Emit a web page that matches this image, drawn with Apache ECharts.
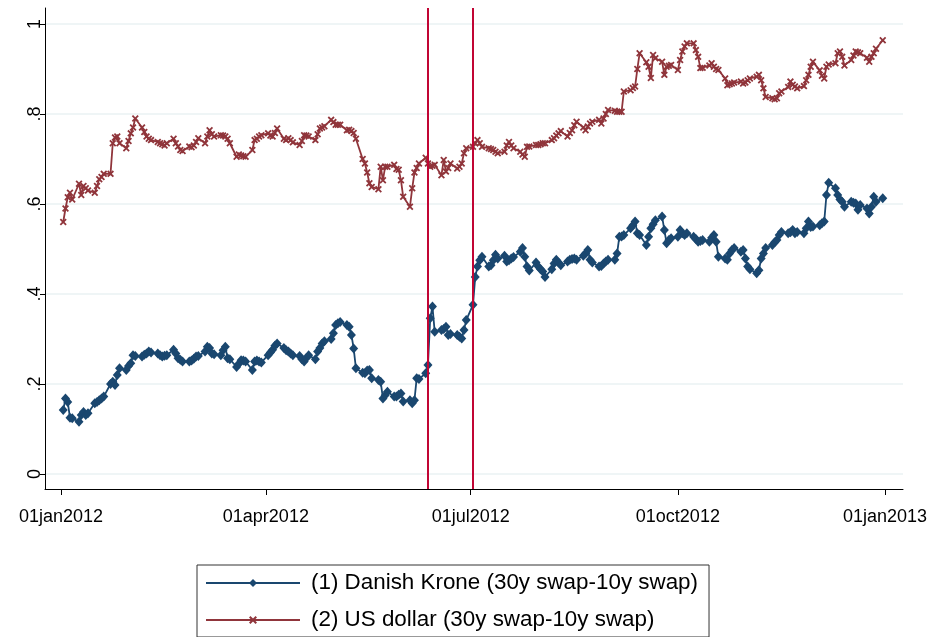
<!DOCTYPE html>
<html><head><meta charset="utf-8">
<script src="https://cdn.jsdelivr.net/npm/echarts@6/dist/echarts.min.js"></script>
<style>html,body{margin:0;padding:0;background:#fff}#c{width:933px;height:637px}</style>
</head><body><div id="c"></div>
<script>
// (1) Danish Krone, one row per week (Mon..Fri), 2012-01-02 .. 2012-12-31
const dkk = [
0.142,0.168,0.160,0.125,0.124,
0.116,0.131,0.138,0.131,0.135,
0.157,0.160,0.164,0.168,0.172,
0.200,0.205,0.198,0.220,0.235,
0.231,0.240,0.246,0.264,0.262,
0.261,0.265,0.268,0.272,0.270,
0.268,0.264,0.261,0.263,0.264,
0.276,0.268,0.257,0.254,0.250,
0.250,0.252,0.256,0.261,0.262,
0.272,0.283,0.280,0.268,0.266,
0.264,0.275,0.283,0.257,0.255,
0.238,0.245,0.253,0.252,0.250,
0.231,0.250,0.252,0.250,0.248,
0.264,0.270,0.276,0.285,0.290,
0.280,0.275,0.272,0.268,0.264,
0.262,0.255,0.250,0.258,0.264,
0.255,0.272,0.280,0.290,0.295,
0.300,0.313,0.331,0.335,0.338,
0.331,0.327,0.309,0.279,0.235,
0.225,0.224,0.230,0.231,0.213,
0.209,0.205,0.168,0.175,0.183,
0.172,0.172,0.176,0.179,0.161,
0.164,0.157,0.164,0.213,0.211,
0.224,0.242,0.346,0.372,0.316,
0.320,0.322,0.327,0.309,0.311,
0.309,0.305,0.301,0.320,0.342,
0.376,0.438,0.461,0.475,0.483,
0.461,0.464,0.475,0.487,0.479,
0.485,0.472,0.475,0.479,0.482,
0.494,0.502,0.483,0.461,0.452,
0.470,0.461,0.455,0.450,0.438,
0.455,0.468,0.476,0.470,0.464,
0.472,0.476,0.478,0.479,0.476,
0.485,0.490,0.498,0.476,0.470,
0.461,0.462,0.468,0.472,0.476,
0.476,0.490,0.527,0.528,0.531,
0.546,0.553,0.561,0.535,0.531,
0.509,0.527,0.546,0.555,0.564,
0.572,0.542,0.513,0.520,0.524,
0.527,0.542,0.535,0.531,0.535,
0.527,0.522,0.516,0.518,0.520,
0.516,0.525,0.531,0.516,0.483,
0.479,0.476,0.490,0.498,0.502,
0.494,0.498,0.479,0.461,0.455,
0.446,0.453,0.479,0.490,0.502,
0.509,0.515,0.520,0.531,0.538,
0.535,0.537,0.542,0.535,0.538,
0.535,0.546,0.561,0.549,0.550,
0.553,0.557,0.561,0.620,0.647,
0.635,0.620,0.610,0.605,0.594,
0.605,0.603,0.601,0.587,0.598,
0.590,0.579,0.594,0.616,0.605,
0.613
];
// (2) US dollar
const usd = [
0.560,0.590,0.615,0.625,0.610,
0.645,0.620,0.640,0.635,0.630,
0.625,0.640,0.655,0.660,0.667,
0.667,0.735,0.748,0.750,0.735,
0.724,0.740,0.757,0.770,0.790,
0.770,0.760,0.750,0.745,0.742,
0.738,0.735,0.733,0.730,0.735,
0.745,0.735,0.728,0.720,0.718,
0.728,0.726,0.730,0.738,0.746,
0.735,0.750,0.764,0.755,0.750,
0.753,0.752,0.750,0.745,0.735,
0.705,0.710,0.708,0.706,0.705,
0.720,0.742,0.745,0.750,0.753,
0.757,0.752,0.750,0.758,0.768,
0.745,0.742,0.746,0.742,0.737,
0.731,0.740,0.753,0.752,0.750,
0.742,0.755,0.768,0.770,0.773,
0.787,0.782,0.776,0.776,0.776,
0.764,0.765,0.762,0.758,0.745,
0.700,0.690,0.670,0.646,0.638,
0.633,0.683,0.653,0.683,0.683,
0.687,0.678,0.676,0.653,0.616,
0.594,0.635,0.670,0.680,0.690,
0.703,0.690,0.683,0.685,0.687,
0.664,0.698,0.672,0.680,0.690,
0.679,0.683,0.690,0.713,0.724,
0.727,0.735,0.742,0.735,0.727,
0.724,0.722,0.720,0.716,0.713,
0.716,0.730,0.738,0.730,0.724,
0.716,0.710,0.705,0.727,0.728,
0.731,0.731,0.733,0.735,0.735,
0.742,0.746,0.752,0.757,0.762,
0.750,0.758,0.764,0.775,0.783,
0.770,0.764,0.772,0.779,0.783,
0.787,0.779,0.790,0.800,0.809,
0.807,0.805,0.805,0.805,0.850,
0.853,0.858,0.861,0.900,0.935,
0.915,0.905,0.880,0.931,0.924,
0.916,0.887,0.905,0.907,0.909,
0.898,0.920,0.939,0.950,0.957,
0.957,0.942,0.927,0.902,0.903,
0.908,0.913,0.905,0.900,0.898,
0.879,0.864,0.866,0.868,0.870,
0.872,0.868,0.870,0.875,0.879,
0.883,0.887,0.875,0.857,0.838,
0.835,0.833,0.835,0.846,0.850,
0.860,0.872,0.865,0.861,0.857,
0.862,0.875,0.887,0.905,0.916,
0.897,0.885,0.879,0.905,0.910,
0.913,0.935,0.939,0.927,0.908,
0.920,0.930,0.939,0.937,0.935,
0.925,0.916,0.927,0.935,0.945,
0.964
];
const seriesNames = ['(1) Danish Krone (30y swap-10y swap)', '(2) US dollar (30y swap-10y swap)'];
const firstDay = '2012-01-02';
const lastDay = '2012-12-31';
const xTickDates = ['2012-01-01', '2012-04-01', '2012-07-01', '2012-10-01', '2013-01-01'];
const yTicks = [0, 0.2, 0.4, 0.6, 0.8, 1];
const yTickLabels = ['0', '.2', '.4', '.6', '.8', '1'];
const eventDates = ['2012-06-12', '2012-07-02'];

const DAY = 86400000;
const ts = s => Date.parse(s + 'T00:00:00Z');
function businessDays(a, b) {
  const out = [];
  for (let t = ts(a); t <= ts(b); t += DAY) {
    const wd = new Date(t).getUTCDay();
    if (wd !== 0 && wd !== 6) out.push(t);
  }
  return out;
}
const days = businessDays(firstDay, lastDay);
const months = ['jan','feb','mar','apr','may','jun','jul','aug','sep','oct','nov','dec'];
function fmtDate(v) {
  const d = new Date(v);
  return String(d.getUTCDate()).padStart(2, '0') + months[d.getUTCMonth()] + d.getUTCFullYear();
}
const xTickVals = xTickDates.map(ts);
const font = 'Liberation Sans, Arial, Helvetica, sans-serif';
const xSymbol = 'path://M0,1.8L1.8,0L5,3.2L8.2,0L10,1.8L6.8,5L10,8.2L8.2,10L5,6.8L1.8,10L0,8.2L3.2,5Z';

const chart = echarts.init(document.getElementById('c'), null, { renderer: 'canvas' });
chart.setOption({
  animation: false,
  backgroundColor: '#ffffff',
  textStyle: { fontFamily: font },
  grid: { left: 45, right: 30, top: 8, bottom: 148, containLabel: false },
  xAxis: {
    type: 'value',
    min: xTickVals[0] - 7.1 * DAY,
    max: xTickVals[0] + 374 * DAY,
    axisLine: { show: true, onZero: false, lineStyle: { color: '#000', width: 1 } },
    axisTick: { show: true, customValues: xTickVals, length: 6, lineStyle: { color: '#000' } },
    axisLabel: { customValues: xTickVals, formatter: v => fmtDate(v), fontSize: 18, color: '#000', margin: 19, fontFamily: font },
    splitLine: { show: false }
  },
  yAxis: {
    type: 'value',
    min: -0.0333,
    max: 1.0356,
    axisLine: { show: true, onZero: false, lineStyle: { color: '#000', width: 1 } },
    axisTick: { show: true, customValues: yTicks, length: 5, lineStyle: { color: '#000' } },
    axisLabel: {
      customValues: yTicks, rotate: 90, fontSize: 18, color: '#000', margin: 1, fontFamily: font,
      formatter: v => { const i = yTicks.findIndex(t => Math.abs(t - v) < 1e-6); return i >= 0 ? yTickLabels[i] : ''; }
    },
    splitLine: { show: true, lineStyle: { color: '#eaf2f3', width: 1.5 } }
  },
  legend: {
    orient: 'vertical',
    left: 197, top: 565, height: 140,
    padding: [7, 11, 6, 8],
    itemGap: 15,
    itemWidth: 94, itemHeight: 10,
    borderColor: '#333', borderWidth: 1,
    textStyle: { fontSize: 22.4, color: '#000', fontFamily: font, padding: [0, 0, 0, 6] },
    data: seriesNames
  },
  series: [
    {
      name: seriesNames[0], type: 'line',
      data: days.map((t, i) => [t, dkk[i]]),
      symbol: 'diamond', symbolSize: [9, 10], showAllSymbol: true,
      lineStyle: { color: '#1a476f', width: 1.8 },
      itemStyle: { color: '#1a476f' },
      z: 3
    },
    {
      name: seriesNames[1], type: 'line',
      data: days.map((t, i) => [t, usd[i]]),
      symbol: xSymbol, symbolSize: 7, showAllSymbol: true,
      lineStyle: { color: '#90353b', width: 1.8 },
      itemStyle: { color: '#90353b' },
      z: 3,
      markLine: {
        silent: true, symbol: 'none', label: { show: false },
        lineStyle: { color: '#c10534', width: 2, type: 'solid' },
        data: eventDates.map(d => ({ xAxis: ts(d) }))
      }
    }
  ]
});
</script></body></html>
